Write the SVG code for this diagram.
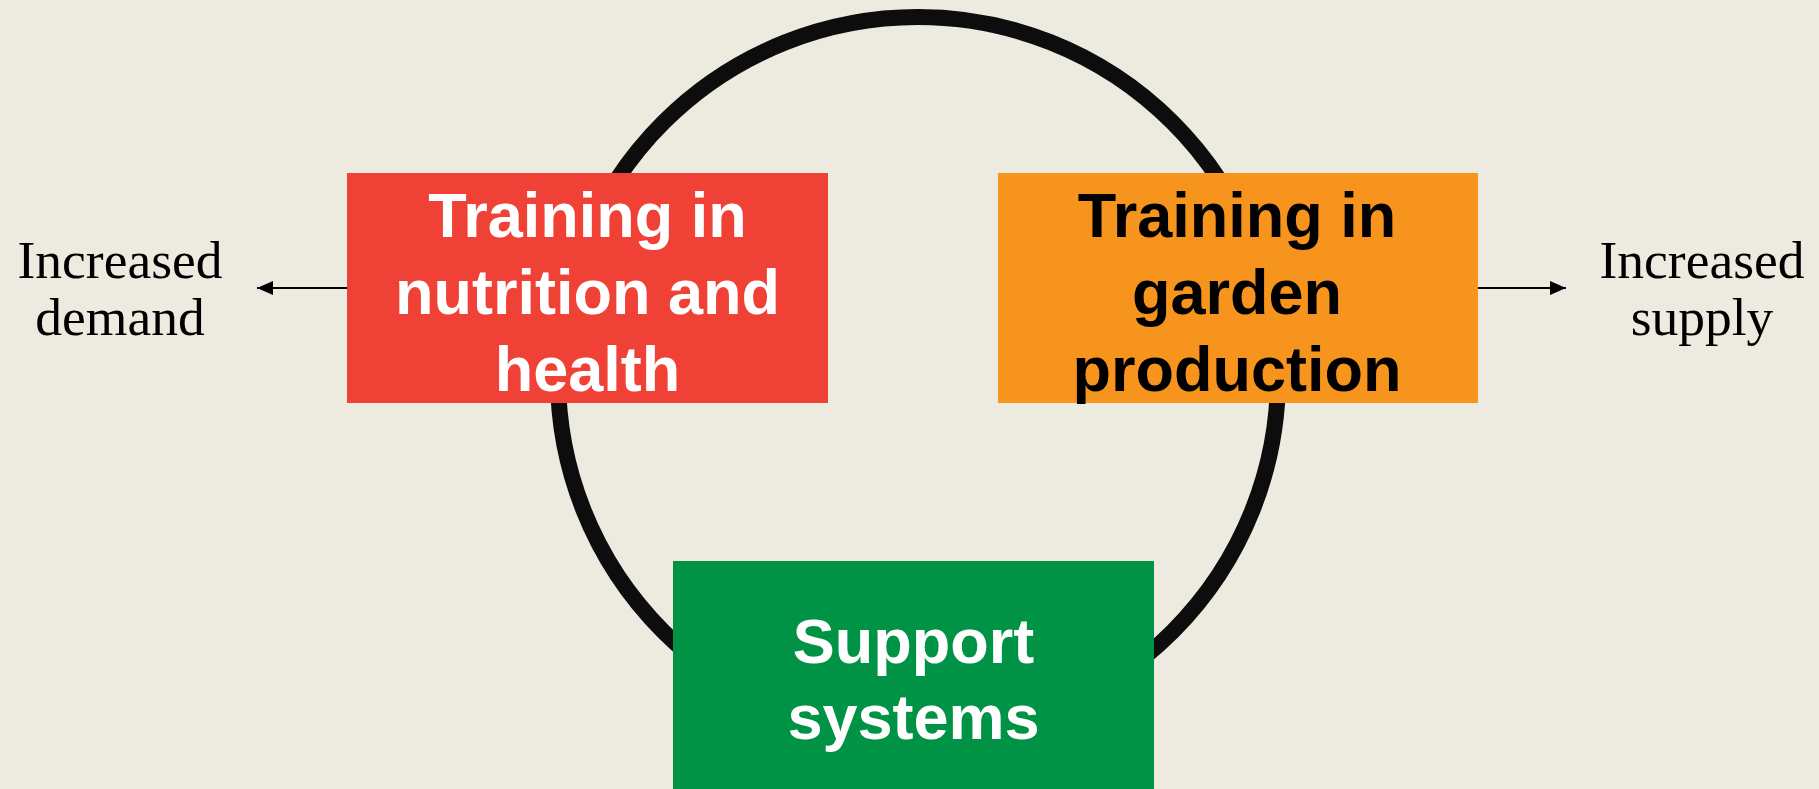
<svg xmlns="http://www.w3.org/2000/svg" width="1819" height="789" viewBox="0 0 1819 789">
  <defs>
    <marker id="arrow" viewBox="0 0 16 14" refX="16" refY="7" markerWidth="16" markerHeight="14" markerUnits="userSpaceOnUse" orient="auto">
      <path d="M0,0 L16,7 L0,14 Z" fill="#000"/>
    </marker>
    <style>
      .box-label { font-family: "Liberation Sans", Arial, sans-serif; font-weight: bold; font-size: 63px; text-anchor: middle; }
      .side-label { font-family: "Liberation Serif", "Times New Roman", serif; font-size: 53.5px; text-anchor: middle; fill: #000; }
      .link { stroke: #000; stroke-width: 2; fill: none; marker-end: url(#arrow); }
    </style>
  </defs>

  <!-- background -->
  <rect x="0" y="0" width="1819" height="789" fill="#EDEBE0"/>

  <!-- cycle ring -->
  <g id="cycle">
    <circle cx="918" cy="377" r="360" fill="none" stroke="#0d0d0d" stroke-width="16"/>
  </g>

  <!-- connectors -->
  <g id="connectors">
    <line class="link" x1="347" y1="288" x2="257" y2="288"/>
    <line class="link" x1="1478" y1="288" x2="1566" y2="288"/>
  </g>

  <!-- tspans are kept on one line so no stray spaces shift the centred lines -->
  <g id="nutrition">
    <rect x="347" y="173" width="481" height="230" fill="#EF4136"/>
    <text class="box-label" fill="#fff"><tspan x="587.5" y="237">Training in</tspan><tspan x="587.5" y="314">nutrition and</tspan><tspan x="587.5" y="391">health</tspan></text>
  </g>

  <g id="garden">
    <rect x="998" y="173" width="480" height="230" fill="#F7941D"/>
    <text class="box-label" fill="#000"><tspan x="1237" y="237">Training in</tspan><tspan x="1237" y="314">garden</tspan><tspan x="1237" y="391">production</tspan></text>
  </g>

  <g id="support">
    <rect x="673" y="561" width="481" height="240" fill="#009245"/>
    <text class="box-label" fill="#fff"><tspan x="913.5" y="663">Support</tspan><tspan x="913.5" y="739">systems</tspan></text>
  </g>

  <g id="demand">
    <text class="side-label"><tspan x="120" y="278">Increased</tspan><tspan x="120" y="335">demand</tspan></text>
  </g>

  <g id="supply">
    <text class="side-label"><tspan x="1702" y="278">Increased</tspan><tspan x="1702" y="335">supply</tspan></text>
  </g>
</svg>
